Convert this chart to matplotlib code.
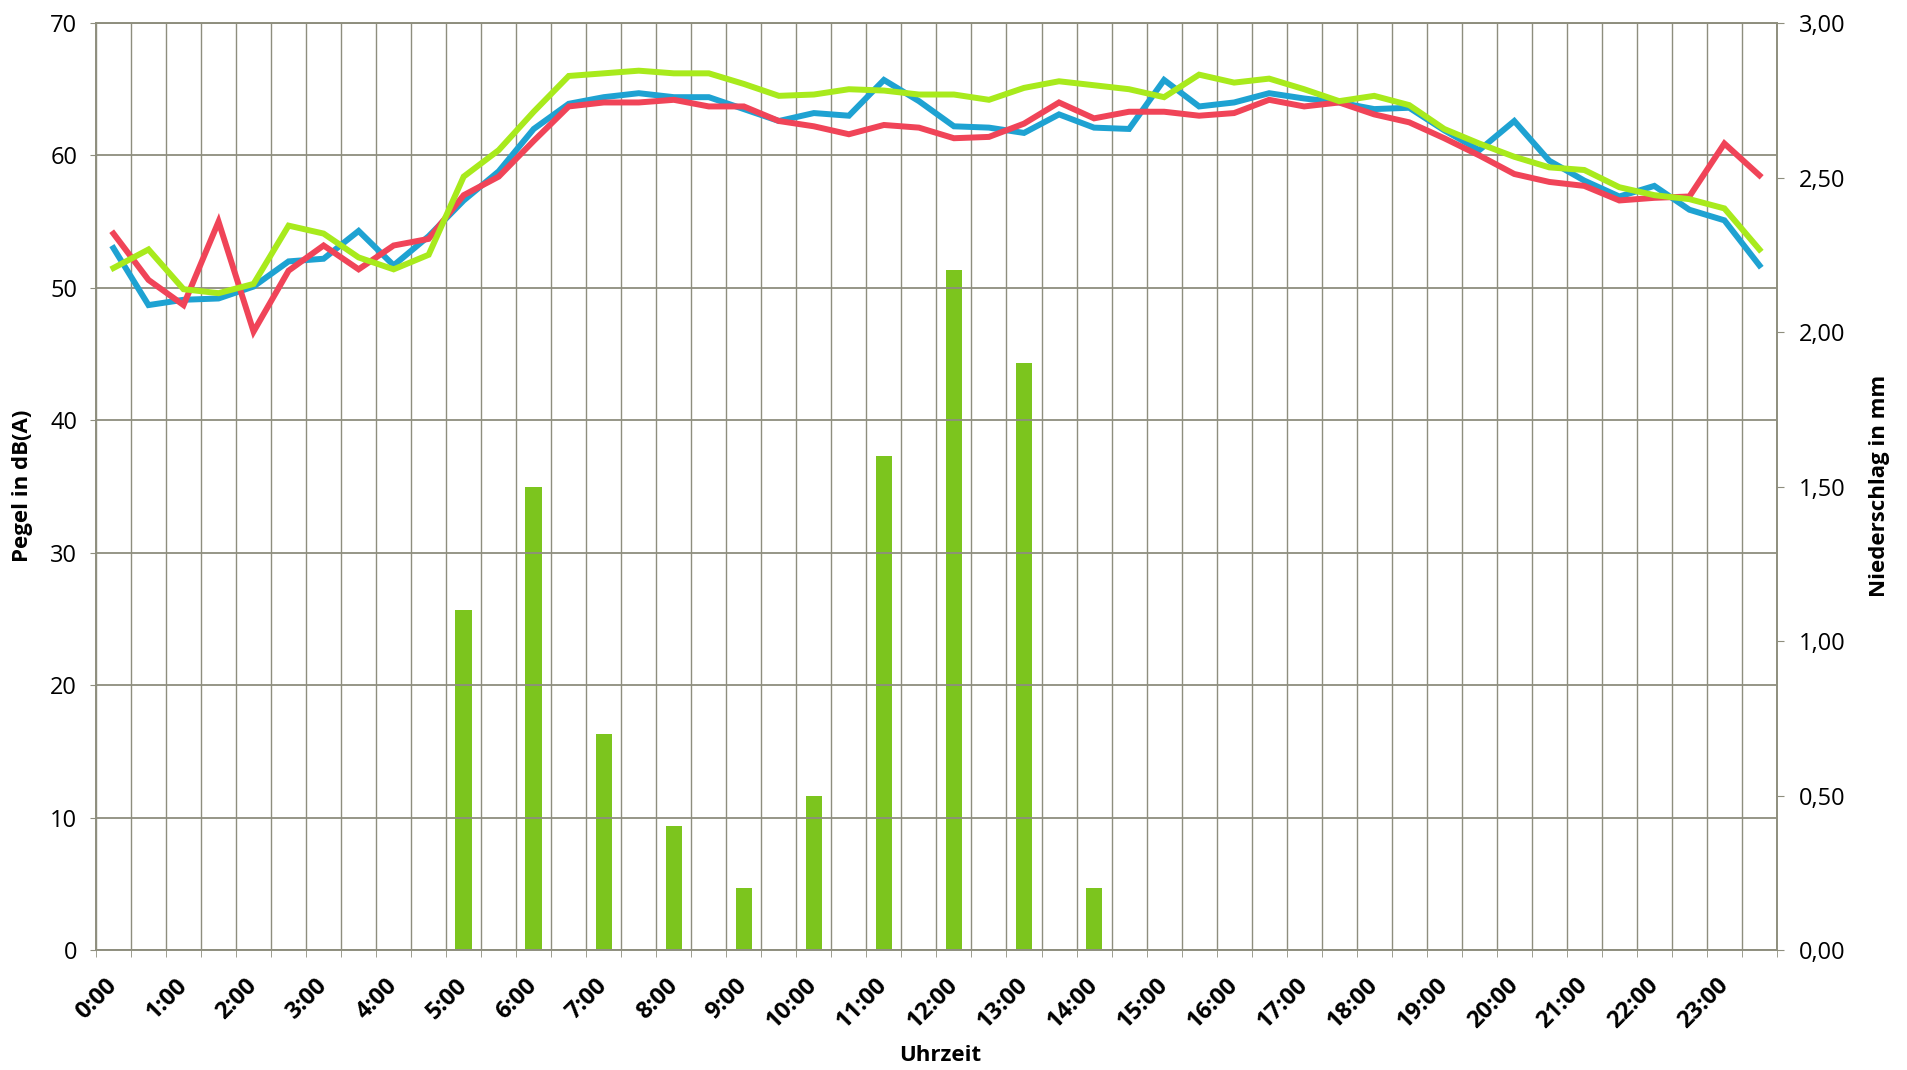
import numpy as np
import matplotlib
from matplotlib import pyplot as plt
from matplotlib.ticker import FuncFormatter
from matplotlib.transforms import ScaledTranslation


# hour labels on the category axis (48 half-hour categories)
hour_labels = ['0:00', '1:00', '2:00', '3:00', '4:00', '5:00', '6:00', '7:00',
               '8:00', '9:00', '10:00', '11:00', '12:00', '13:00', '14:00',
               '15:00', '16:00', '17:00', '18:00', '19:00', '20:00', '21:00',
               '22:00', '23:00']

# sound level, dB(A), one value per half hour
pegel_blau = [53.0, 48.7, 49.1, 49.2, 50.1, 52.0, 52.2, 54.3, 51.7, 53.9, 56.6, 58.8,
              62.0, 63.9, 64.4, 64.7, 64.4, 64.4, 63.5, 62.6, 63.2, 63.0, 65.7, 64.1,
              62.2, 62.1, 61.7, 63.1, 62.1, 62.0, 65.7, 63.7, 64.0, 64.7, 64.3, 64.0,
              63.5, 63.6, 61.9, 60.4, 62.6, 59.6, 58.1, 56.9, 57.7, 55.9, 55.1, 51.7]
pegel_rot = [54.1, 50.6, 48.7, 55.0, 46.7, 51.3, 53.2, 51.4, 53.2, 53.7, 57.0, 58.4,
             61.1, 63.7, 64.0, 64.0, 64.2, 63.7, 63.7, 62.6, 62.2, 61.6, 62.3, 62.1,
             61.3, 61.4, 62.4, 64.0, 62.8, 63.3, 63.3, 63.0, 63.2, 64.2, 63.7, 64.0,
             63.1, 62.5, 61.3, 60.0, 58.6, 58.0, 57.7, 56.6, 56.8, 56.9, 60.9, 58.5]
pegel_gruen = [51.5, 52.9, 49.9, 49.6, 50.3, 54.7, 54.1, 52.3, 51.4, 52.5, 58.4, 60.4,
               63.3, 66.0, 66.2, 66.4, 66.2, 66.2, 65.4, 64.5, 64.6, 65.0, 64.9, 64.6,
               64.6, 64.2, 65.1, 65.6, 65.3, 65.0, 64.4, 66.1, 65.5, 65.8, 65.0, 64.1,
               64.5, 63.8, 62.0, 60.9, 59.9, 59.1, 58.9, 57.6, 57.0, 56.7, 56.0, 52.9]

# precipitation in mm, one value per full hour
niederschlag = [0, 0, 0, 0, 0, 1.1, 1.5, 0.7, 0.4, 0.2, 0.5, 1.6,
                2.2, 1.9, 0.2, 0, 0, 0, 0, 0, 0, 0, 0, 0]


grid_color = '#8e8e7e'
matplotlib.rc('font', family=['Open Sans', 'DejaVu Sans'], size=17)

fig = plt.figure(figsize=(19.08, 10.70), dpi=100)
ax = fig.add_axes([0.0503, 0.1121, 0.8810, 0.8664])
ax2 = ax.twinx()

n = len(pegel_blau)
x = np.arange(n)
x_hours = np.arange(len(niederschlag)) * 2

# bars on the secondary axis
ax2.bar(x_hours, niederschlag, width=0.47, color='#7cc51e', zorder=2)

# lines on the primary axis, drawn above the bars
ax.set_zorder(ax2.get_zorder() + 1)
ax.patch.set_visible(False)
ax.plot(x, pegel_blau, color='#1ea2d2', lw=4.3, solid_joinstyle='miter', zorder=3)
ax.plot(x, pegel_rot, color='#f04458', lw=4.3, solid_joinstyle='miter', zorder=3)
ax.plot(x, pegel_gruen, color='#a8ea1c', lw=4.3, solid_joinstyle='miter', zorder=4)

ax.set_xlim(-0.5, n - 0.5)
ax.set_ylim(0, 70)
ax.set_yticks(range(0, 71, 10))
ax2.set_ylim(0, 3)
ax2.set_yticks(np.arange(0, 3.01, 0.5))
ax2.yaxis.set_major_formatter(FuncFormatter(lambda v, p: f'{v:.2f}'.replace('.', ',')))

# category boundaries as vertical grid lines
ax.set_xticks(np.arange(n + 1) - 0.5, minor=True)
ax.set_xticks(x_hours)
ax.set_xticklabels(hour_labels, rotation=45, ha='right', va='center',
                   rotation_mode='anchor', fontweight='bold', fontsize=17)
for lab in ax.get_xticklabels():
    lab.set_transform(lab.get_transform() + ScaledTranslation(0.11, 0, fig.dpi_scale_trans))
ax.tick_params(axis='x', which='major', length=0, pad=23)
ax.tick_params(axis='x', which='minor', length=5, color=grid_color, direction='out')
ax.tick_params(axis='y', length=4.5, color=grid_color, pad=9)
ax2.tick_params(axis='y', length=5, color=grid_color, pad=11)

ax.grid(True, which='minor', axis='x', color=grid_color, lw=1.0)
ax.grid(True, which='major', axis='y', color=grid_color, lw=1.3)
ax.set_axisbelow(True)

for a in (ax, ax2):
    for s in a.spines.values():
        s.set_color(grid_color)
        s.set_linewidth(1.2)

fig.text(0.012, 0.546, 'Pegel in dB(A)', rotation=90, ha='center', va='center',
         fontweight='bold', fontsize=16)
fig.text(0.9853, 0.546, 'Niederschlag in mm', rotation=90, ha='center', va='center',
         fontweight='bold', fontsize=16)
fig.text(0.4927, 0.014, 'Uhrzeit', ha='center', va='center',
         fontweight='bold', fontsize=16)

plt.savefig('out.png', dpi=100)
